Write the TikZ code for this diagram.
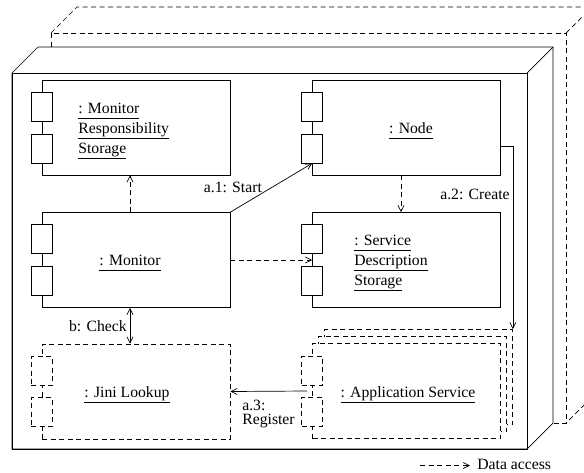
\documentclass[tikz,border=0pt]{standalone}
\usepackage{fontspec}
\setmainfont{Liberation Serif}
\usetikzlibrary{arrows.meta}

% object name, underlined
\newcommand{\objname}[1]{\leavevmode\setbox0=\hbox{#1}%
  \rlap{\copy0}\rlap{\raisebox{-5.5pt}{\rule{\wd0}{0.6pt}}}\hbox to\wd0{}}

\tikzset{
  dashed/.style={dash pattern=on 5pt off 3.5pt},
  comp/.style={draw,rectangle,fill=white,minimum width=188pt,minimum height=95pt,inner sep=0pt},
  port/.style={draw,rectangle,fill=white,minimum width=21pt,minimum height=29pt,inner sep=0pt},
  access/.style={dashed,->},
  lab/.style={inner sep=0pt,align=left},
}

\begin{document}
\begin{tikzpicture}[x=1pt,y=-1pt,line width=0.7pt,
    >={Straight Barb[length=6pt,width=6pt]},
    every node/.style={font=\fontsize{15.7}{20}\selectfont}]
\useasboundingbox (0,0) rectangle (584,472);
\clip (0,0) rectangle (584,472);

    % second (dashed) host behind
    \draw[dashed] (51,33) rectangle (566,423);
    \draw[dashed] (51,33) -- (77,7) -- (592,7) -- (592,397) -- (566,423);
    \draw[dashed] (566,33) -- (592,7);
    % host box
    \filldraw[fill=white] (12,73) -- (38,47) -- (553,47) -- (553,423) -- (527,449) -- (12,449) -- cycle;
    \draw (12,73) rectangle (527,449);
    \draw (527,73) -- (553,47);

    % components
    \node[comp] (storage) at (136,127.5) {};
    \node[comp] (monitor) at (136,260) {};
    \node[comp] (nodeobj) at (406.5,127.5) {};
    \node[comp] (servdesc) at (406.5,260) {};
    \node[comp,dashed] (lookup) at (136,391.5) {};
    \node[comp,dashed] (appsvc3) at (418.5,377) {};
    \node[comp,dashed] (appsvc2) at (412.5,384) {};
    \node[comp,dashed] (appsvc) at (406.5,391) {};

    \foreach \c in {storage,monitor,nodeobj,servdesc}{
        \node[port] (\c-a) at ([yshift=21pt]\c.west) {};
        \node[port] (\c-b) at ([yshift=-21pt]\c.west) {};
    }
    \foreach \c in {lookup,appsvc}{
        \node[port,dashed] (\c-a) at ([yshift=20.5pt]\c.west) {};
        \node[port,dashed] (\c-b) at ([yshift=-20.5pt]\c.west) {};
    }

    \node[lab,anchor=north west] (storage-t) at (78,102.5)
        {\objname{: Monitor}\\\objname{Responsibility}\\\objname{Storage}};
    \node[lab,anchor=base] (monitor-t) at (130,265) {\objname{: Monitor}};
    \node[lab,anchor=base] (nodeobj-t) at (411,133) {\objname{: Node}};
    \node[lab,anchor=north west] (servdesc-t) at (354,234.5)
        {\objname{: Service}\\\objname{Description}\\\objname{Storage}};
    \node[lab,anchor=base] (lookup-t) at (127,397) {\objname{: Jini Lookup}};
    \node[lab,anchor=base] (appsvc-t) at (408,397) {\objname{: Application Service}};

    % messages
    \draw[->] (monitor.north east) -- (nodeobj-b.south)
        node[lab,midway,left=9pt] (a1) {a.1: Start};
    \draw[->] ([yshift=-18.5pt]nodeobj.east) -| (appsvc3.north east);
    \node[lab,anchor=east] (a2) at (510,194) {a.2: Create};
    \draw[->] ([xshift=-5pt]appsvc.west) -- (lookup.east);
    \node[lab,anchor=north west,font=\fontsize{15.7}{13.5}\selectfont] (a3) at (242,400) {a.3:\\Register};
    \draw[<->] ([xshift=-6pt]monitor.south) -- ([xshift=-6pt]lookup.north)
        node[lab,midway,left=3pt] (b) {b: Check};

    % data access
    \draw[access] ([xshift=-6pt]monitor.north) -- ([xshift=-6pt]storage.south);
    \draw[access] ([xshift=-5.5pt]nodeobj.south) -- ([xshift=-5.5pt]servdesc.north);
    \draw[access] (monitor.east) -- (servdesc.west);

    % legend
    \node[lab,anchor=base west] (legend) at (477,469.5) {Data access};
    \coordinate (legend-start) at (420,465.5);
    \draw[access] (legend-start) -- ([xshift=-7pt]legend-start -| legend.west);
\end{tikzpicture}
\end{document}
